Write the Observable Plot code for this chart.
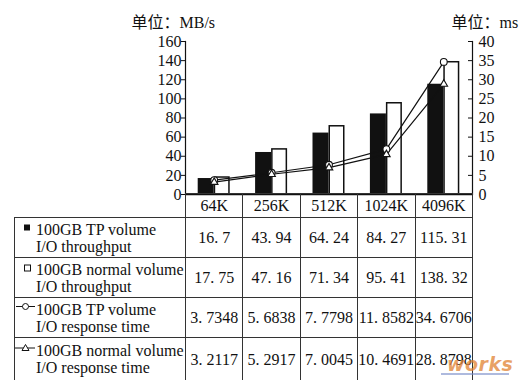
<!DOCTYPE html>
<html><head><meta charset="utf-8">
<script src="https://cdn.jsdelivr.net/npm/d3@7"></script>
<script src="https://cdn.jsdelivr.net/npm/@observablehq/plot@0.6"></script>
<style>
body{margin:0;background:#fff;}
#wrap{position:relative;width:519px;height:382px;overflow:hidden;background:#fff;font-family:"Liberation Serif","Noto Sans CJK SC",serif;color:#111;}
#chart{position:absolute;left:0;top:0;}
#tbl{position:absolute;border-collapse:collapse;table-layout:fixed;font-size:16px;line-height:17px;}
#tbl td{border:1.5px solid #333;text-align:center;vertical-align:middle;padding:0;white-space:nowrap;overflow:hidden;}
#tbl td.blank{border-top:none;border-left:none;}
#tbl tr.last td{border-bottom:none;}
#tbl td.lgc{text-align:left;}
.lg{position:relative;padding-left:21px;}
.lg svg{position:absolute;left:0;top:-2px;}
#wm{position:absolute;left:447px;top:353px;font:italic bold 19px "DejaVu Sans",sans-serif;color:rgba(225,130,50,0.75);letter-spacing:0.5px;}
#wm:after{content:"";position:absolute;left:-6px;right:4px;bottom:0px;height:2px;background:rgba(120,140,200,0.6);}
</style></head>
<body>
<div id="wrap"><div id="chart"></div></div>
<script>
// ---- data ----
const categories = ["64K", "256K", "512K", "1024K", "4096K"];
const tpThroughput = [16.7, 43.94, 64.24, 84.27, 115.31];        // MB/s
const normalThroughput = [17.75, 47.16, 71.34, 95.41, 138.32];    // MB/s
const tpResponse = [3.7348, 5.6838, 7.7798, 11.8582, 34.6706];    // ms
const normalResponse = [3.2117, 5.2917, 7.0045, 10.4691, 28.8798]; // ms
const leftTicks = [0, 20, 40, 60, 80, 100, 120, 140, 160];
const rightTicks = [0, 5, 10, 15, 20, 25, 30, 35, 40];
const leftTitle = "单位：MB/s";
const rightTitle = "单位：ms";
const seriesNames = [
  ["100GB TP volume", "I/O throughput"],
  ["100GB normal volume", "I/O throughput"],
  ["100GB TP volume", "I/O response time"],
  ["100GB normal volume", "I/O response time"]
];
const seriesValues = [tpThroughput, normalThroughput, tpResponse, normalResponse];

// ---- layout ----
const W = 519, H = 195, mL = 185, mR = 47, mT = 41, mB = 1;
const plotW = W - mL - mR;
const ratio = 160 / 40; // right axis (ms) -> left axis (MB/s)
const barW = 16;
const bandW = plotW / categories.length;
const pad = (bandW - 2 * barW) / 2;
const INK = "#111";

const rows = (vals) => categories.map((c, i) => ({cat: c, v: vals[i]}));
const tpT = rows(tpThroughput), nT = rows(normalThroughput);
const tpR = rows(tpResponse), nR = rows(normalResponse);

const chart = Plot.plot({
  width: W, height: H,
  marginLeft: mL, marginRight: mR, marginTop: mT, marginBottom: mB,
  style: {fontFamily: '"Liberation Serif","Noto Sans CJK SC",serif', fontSize: "16px", color: INK, background: "transparent", overflow: "visible"},
  x: {type: "band", domain: categories, padding: 0, round: false, axis: null},
  y: {domain: [0, 160], axis: null},
  marks: [
    Plot.barY(tpT, {x: "cat", y: "v", fill: INK, insetLeft: pad, insetRight: pad + barW}),
    Plot.barY(nT, {x: "cat", y: "v", fill: "white", stroke: INK, strokeWidth: 1.5, insetLeft: pad + barW + 0.75, insetRight: pad + 0.75}),
    Plot.line(tpR, {x: "cat", y: d => d.v * ratio, stroke: INK, strokeWidth: 1.2}),
    Plot.line(nR, {x: "cat", y: d => d.v * ratio, stroke: INK, strokeWidth: 1.2}),
    Plot.dot(tpR, {x: "cat", y: d => d.v * ratio, r: 3.4, symbol: "circle", fill: "white", stroke: INK, strokeWidth: 1.1}),
    Plot.dot(nR, {x: "cat", y: d => d.v * ratio, r: 2.8, symbol: "triangle", fill: "white", stroke: INK, strokeWidth: 1.1}),
    Plot.ruleY([0], {stroke: INK, strokeWidth: 1.5}),
    Plot.frame({anchor: "left", stroke: INK, strokeWidth: 1.2}),
    Plot.frame({anchor: "right", stroke: INK, strokeWidth: 1.2}),
    Plot.axisY(leftTicks, {anchor: "left", tickSize: 4, tickPadding: 0, label: null, stroke: INK}),
    Plot.axisY(rightTicks.map(d => d * ratio), {anchor: "right", tickSize: 0, tickPadding: 6, tickFormat: d => d / ratio, label: null}),
    Plot.tickY(rightTicks, {y: d => d * ratio, insetLeft: plotW - 4, stroke: INK, strokeWidth: 1}),
    Plot.text([leftTitle], {text: d => d, frameAnchor: "top-left", textAnchor: "start", lineAnchor: "middle", dx: -54, dy: -19, fontSize: 16, fill: INK}),
    Plot.text([rightTitle], {text: d => d, frameAnchor: "top-right", textAnchor: "start", lineAnchor: "middle", dx: -21, dy: -19, fontSize: 16, fill: INK})
  ]
});
document.getElementById("chart").appendChild(chart);

// ---- data table under the chart ----
const xs = chart.scale("x");
const colW = xs.bandwidth;
const tableLeft = 14;
const wrap = d3.select("#wrap");
const table = wrap.append("table").attr("id", "tbl")
  .style("left", tableLeft + "px").style("top", (H - mB - 0.75) + "px")
  .style("width", (mL - tableLeft + colW * categories.length) + "px");
const cg = table.append("colgroup");
cg.append("col").style("width", (mL - tableLeft) + "px");
categories.forEach(() => cg.append("col").style("width", colW + "px"));

const head = table.append("tr").style("height", "24px");
head.append("td").attr("class", "blank");
categories.forEach(c => head.append("td").text(c));

const glyphs = [
  '<svg width="21" height="17"><rect x="9" y="5.5" width="6" height="6" fill="#111"/></svg>',
  '<svg width="21" height="17"><rect x="9.5" y="6" width="6" height="6" fill="white" stroke="#111" stroke-width="1"/></svg>',
  '<svg width="21" height="17"><line x1="1" x2="20" y1="7.5" y2="7.5" stroke="#111"/><circle cx="10.5" cy="7.5" r="3" fill="white" stroke="#111"/></svg>',
  '<svg width="21" height="17"><line x1="0" x2="20" y1="8" y2="8" stroke="#111"/><path d="M10.5,4.5L14,10.5L7,10.5Z" fill="white" stroke="#111"/></svg>'
];
const fmt = v => String(v).replace(".", ". ");
seriesNames.forEach((name, i) => {
  const tr = table.append("tr").style("height", i === 3 ? "42px" : "40px");
  if (i === 3) tr.attr("class", "last");
  tr.append("td").attr("class", "lgc")
    .append("div").attr("class", "lg")
    .html(glyphs[i] + name[0] + "<br>" + name[1]);
  seriesValues[i].forEach(v => tr.append("td").text(fmt(v)));
});

wrap.append("div").attr("id", "wm").text("works");
</script>
</body></html>
